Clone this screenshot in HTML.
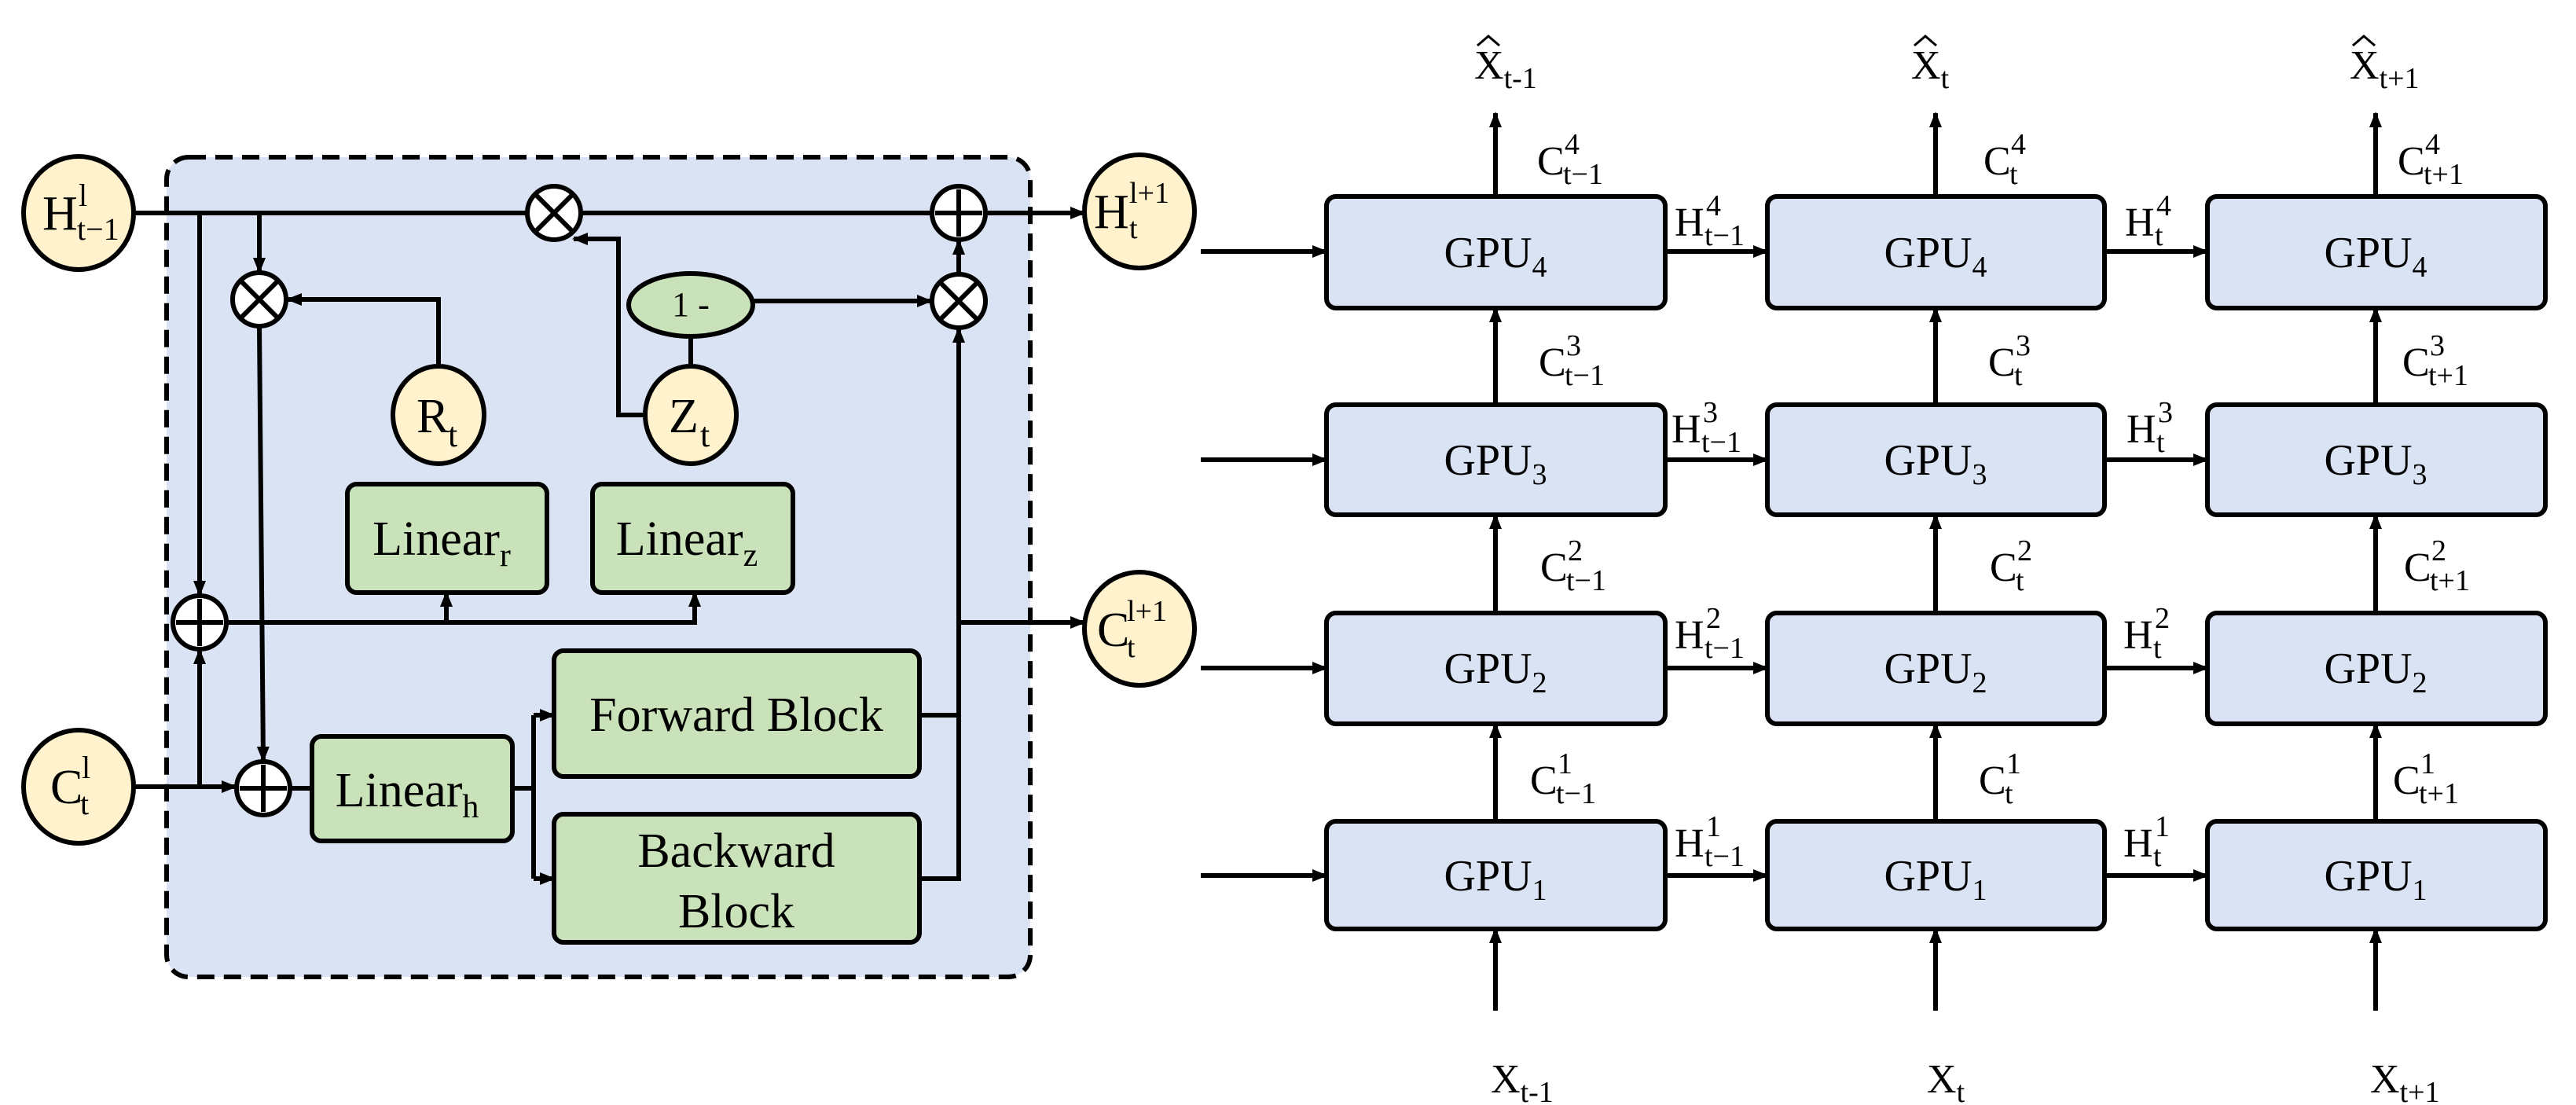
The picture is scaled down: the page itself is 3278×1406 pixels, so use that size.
<!DOCTYPE html>
<html><head><meta charset="utf-8"><style>body{margin:0;background:#fff}svg{display:block}text{font-family:"Liberation Serif",serif;fill:#000}</style></head><body>
<svg width="3278" height="1406" viewBox="0 0 3278 1406" xmlns="http://www.w3.org/2000/svg">
<defs><marker id="a" markerUnits="userSpaceOnUse" markerWidth="20" markerHeight="16" refX="18" refY="8" orient="auto"><path d="M0,0 L20,8 L0,16 z" fill="#000"/></marker></defs>
<g stroke="#000" stroke-width="6" fill="none">
<rect x="212" y="200" width="1099" height="1043" rx="28" fill="#dae3f3" stroke-dasharray="22,12"/>
</g>
<g stroke="#000" stroke-width="6" fill="none" marker-end="url(#a)">
<path d="M170,271 H1186" marker-end="none"/>
<path d="M1254,271 H1380"/>
<path d="M254,271 V757"/>
<path d="M330,271 V346"/>
<path d="M330,416 L335,968"/>
<path d="M558,466 V381 H366"/>
<path d="M821,528 H787 V304 H730"/>
<path d="M879,488 V428" marker-end="none"/>
<path d="M958,383 H1185"/>
<path d="M1220,348 V306"/>
<path d="M170,1001 H300"/>
<path d="M254,1001 V827"/>
<path d="M289,792 H884 V754" />
<path d="M568,792 V754"/>
<path d="M369,1003 H397" marker-end="none"/>
<path d="M652,1003 H679" marker-end="none"/>
<path d="M679,910 V1118" marker-end="none"/>
<path d="M679,910 H705"/>
<path d="M679,1118 H705"/>
<path d="M1170,910 H1220" marker-end="none"/>
<path d="M1170,1118 H1220 V418"/>
<path d="M1220,792 H1380"/>
</g>
<g stroke="#000" stroke-width="6">
<ellipse cx="100" cy="271" rx="70" ry="72" fill="#fff2cc"/>
<ellipse cx="100" cy="1001" rx="70" ry="72" fill="#fff2cc"/>
<ellipse cx="1450" cy="269" rx="70" ry="72" fill="#fff2cc"/>
<ellipse cx="1450" cy="800" rx="70" ry="72" fill="#fff2cc"/>
<ellipse cx="558" cy="528" rx="58" ry="62" fill="#fff2cc"/>
<ellipse cx="879" cy="528" rx="58" ry="62" fill="#fff2cc"/>
<ellipse cx="879" cy="388" rx="79" ry="40" fill="#c9e2b9"/>
<rect x="442" y="616" width="254" height="138" rx="12" fill="#c9e2b9"/>
<rect x="754" y="616" width="255" height="138" rx="12" fill="#c9e2b9"/>
<rect x="397" y="937" width="255" height="133" rx="12" fill="#c9e2b9"/>
<rect x="705" y="828" width="465" height="160" rx="12" fill="#c9e2b9"/>
<rect x="705" y="1036" width="465" height="163" rx="12" fill="#c9e2b9"/>
<g fill="#fff"><circle cx="705" cy="271" r="34"/><circle cx="330" cy="381" r="34"/><circle cx="1220" cy="383" r="34"/>
<circle cx="1220" cy="271" r="34"/><circle cx="254" cy="792" r="34"/><circle cx="335" cy="1003" r="34"/></g>
<path d="M681,247 L729,295 M729,247 L681,295 M306,357 L354,405 M354,357 L306,405 M1196,359 L1244,407 M1244,359 L1196,407" />
<path d="M1220,241 V301 M1190,271 H1250 M254,762 V822 M224,792 H284 M335,973 V1033 M305,1003 H365"/>
</g>
<g font-size="62">
<text x="54" y="292">H</text><text x="100" y="262" font-size="40">l</text><text x="98" y="305" font-size="40">t−1</text>
<text x="64" y="1022">C</text><text x="104" y="990" font-size="40">l</text><text x="102" y="1036" font-size="40">t</text>
<text x="1392" y="290">H</text><text x="1437" y="258" font-size="38">l+1</text><text x="1437" y="303" font-size="38">t</text>
<text x="1396" y="822">C</text><text x="1434" y="790" font-size="38">l+1</text><text x="1434" y="836" font-size="38">t</text>
<text x="530" y="550">R</text><text x="570" y="568" font-size="44">t</text>
<text x="851" y="550">Z</text><text x="891" y="568" font-size="44">t</text>
<text x="879" y="402" font-size="44" text-anchor="middle">1 -</text>
<text x="562" y="706" text-anchor="middle">Linear<tspan dy="14" font-size="42">r</tspan></text>
<text x="874" y="706" text-anchor="middle">Linear<tspan dy="14" font-size="42">z</tspan></text>
<text x="518" y="1026" text-anchor="middle">Linear<tspan dy="14" font-size="42">h</tspan></text>
<text x="937" y="930" text-anchor="middle">Forward Block</text>
<text x="937" y="1103" text-anchor="middle">Backward</text>
<text x="937" y="1180" text-anchor="middle">Block</text>
</g>
<g stroke="#000" stroke-width="6" fill="none" marker-end="url(#a)">
<path d="M1528,320 H1688"/><path d="M1528,585 H1688"/><path d="M1528,850 H1688"/><path d="M1528,1114 H1688"/>
<path d="M2119,320 H2249"/><path d="M2119,585 H2249"/><path d="M2119,850 H2249"/><path d="M2119,1114 H2249"/>
<path d="M2678,320 H2809"/><path d="M2678,585 H2809"/><path d="M2678,850 H2809"/><path d="M2678,1114 H2809"/>
<path d="M1903,250 V144"/><path d="M2463,250 V144"/><path d="M3023,250 V144"/>
<path d="M1903,515 V392"/><path d="M2463,515 V392"/><path d="M3023,515 V392"/>
<path d="M1903,780 V655"/><path d="M2463,780 V655"/><path d="M3023,780 V655"/>
<path d="M1903,1045 V921"/><path d="M2463,1045 V921"/><path d="M3023,1045 V921"/>
<path d="M1903,1286 V1182"/><path d="M2463,1286 V1182"/><path d="M3023,1286 V1182"/>
</g>
<g stroke="#000" stroke-width="6" fill="#dae3f3">
<rect x="1688" y="250" width="431" height="142" rx="12"/><rect x="2249" y="250" width="429" height="142" rx="12"/><rect x="2809" y="250" width="430" height="142" rx="12"/>
<rect x="1688" y="515" width="431" height="140" rx="12"/><rect x="2249" y="515" width="429" height="140" rx="12"/><rect x="2809" y="515" width="430" height="140" rx="12"/>
<rect x="1688" y="780" width="431" height="141" rx="12"/><rect x="2249" y="780" width="429" height="141" rx="12"/><rect x="2809" y="780" width="430" height="141" rx="12"/>
<rect x="1688" y="1045" width="431" height="137" rx="12"/><rect x="2249" y="1045" width="429" height="137" rx="12"/><rect x="2809" y="1045" width="430" height="137" rx="12"/>
</g>
<g font-size="56" text-anchor="middle">
<text x="1903" y="340">GPU<tspan dy="12" font-size="38">4</tspan></text><text x="2463" y="340">GPU<tspan dy="12" font-size="38">4</tspan></text><text x="3023" y="340">GPU<tspan dy="12" font-size="38">4</tspan></text>
<text x="1903" y="604">GPU<tspan dy="12" font-size="38">3</tspan></text><text x="2463" y="604">GPU<tspan dy="12" font-size="38">3</tspan></text><text x="3023" y="604">GPU<tspan dy="12" font-size="38">3</tspan></text>
<text x="1903" y="869">GPU<tspan dy="12" font-size="38">2</tspan></text><text x="2463" y="869">GPU<tspan dy="12" font-size="38">2</tspan></text><text x="3023" y="869">GPU<tspan dy="12" font-size="38">2</tspan></text>
<text x="1903" y="1133">GPU<tspan dy="12" font-size="38">1</tspan></text><text x="2463" y="1133">GPU<tspan dy="12" font-size="38">1</tspan></text><text x="3023" y="1133">GPU<tspan dy="12" font-size="38">1</tspan></text>
</g>
<g font-size="52">
<text x="1956" y="222">C</text><text x="1991" y="196" font-size="38">4</text><text x="1989" y="234" font-size="38">t−1</text>
<text x="1958" y="478">C</text><text x="1993" y="452" font-size="38">3</text><text x="1991" y="490" font-size="38">t−1</text>
<text x="1960" y="739">C</text><text x="1995" y="713" font-size="38">2</text><text x="1993" y="751" font-size="38">t−1</text>
<text x="1947" y="1010">C</text><text x="1982" y="984" font-size="38">1</text><text x="1980" y="1022" font-size="38">t−1</text>
<text x="2524" y="222">C</text><text x="2559" y="196" font-size="38">4</text><text x="2557" y="234" font-size="38">t</text>
<text x="2530" y="478">C</text><text x="2565" y="452" font-size="38">3</text><text x="2563" y="490" font-size="38">t</text>
<text x="2532" y="739">C</text><text x="2567" y="713" font-size="38">2</text><text x="2565" y="751" font-size="38">t</text>
<text x="2518" y="1010">C</text><text x="2553" y="984" font-size="38">1</text><text x="2551" y="1022" font-size="38">t</text>
<text x="3051" y="222">C</text><text x="3086" y="196" font-size="38">4</text><text x="3084" y="234" font-size="38">t+1</text>
<text x="3057" y="478">C</text><text x="3092" y="452" font-size="38">3</text><text x="3090" y="490" font-size="38">t+1</text>
<text x="3059" y="739">C</text><text x="3094" y="713" font-size="38">2</text><text x="3092" y="751" font-size="38">t+1</text>
<text x="3045" y="1010">C</text><text x="3080" y="984" font-size="38">1</text><text x="3078" y="1022" font-size="38">t+1</text>
<text x="2131" y="300">H</text><text x="2171" y="274" font-size="38">4</text><text x="2169" y="312" font-size="38">t−1</text>
<text x="2127" y="563">H</text><text x="2167" y="537" font-size="38">3</text><text x="2165" y="575" font-size="38">t−1</text>
<text x="2131" y="825">H</text><text x="2171" y="799" font-size="38">2</text><text x="2169" y="837" font-size="38">t−1</text>
<text x="2131" y="1090">H</text><text x="2171" y="1064" font-size="38">1</text><text x="2169" y="1102" font-size="38">t−1</text>
<text x="2704" y="300">H</text><text x="2744" y="274" font-size="38">4</text><text x="2742" y="312" font-size="38">t</text>
<text x="2706" y="563">H</text><text x="2746" y="537" font-size="38">3</text><text x="2744" y="575" font-size="38">t</text>
<text x="2702" y="825">H</text><text x="2742" y="799" font-size="38">2</text><text x="2740" y="837" font-size="38">t</text>
<text x="2702" y="1090">H</text><text x="2742" y="1064" font-size="38">1</text><text x="2740" y="1102" font-size="38">t</text>
<text x="1876" y="100">X<tspan dy="12" font-size="38">t-1</tspan></text>
<text x="2432" y="100">X<tspan dy="12" font-size="38">t</tspan></text>
<text x="2990" y="100">X<tspan dy="12" font-size="38">t+1</tspan></text>
<text x="1897" y="1390">X<tspan dy="12" font-size="38">t-1</tspan></text>
<text x="2452" y="1390">X<tspan dy="12" font-size="38">t</tspan></text>
<text x="3016" y="1390">X<tspan dy="12" font-size="38">t+1</tspan></text>
</g>
<g stroke="#000" stroke-width="3" fill="none">
<path d="M1880,58 L1894,46 L1908,58"/><path d="M2436,58 L2450,46 L2464,58"/><path d="M2994,58 L3008,46 L3022,58"/>
</g>
</svg>
</body></html>
